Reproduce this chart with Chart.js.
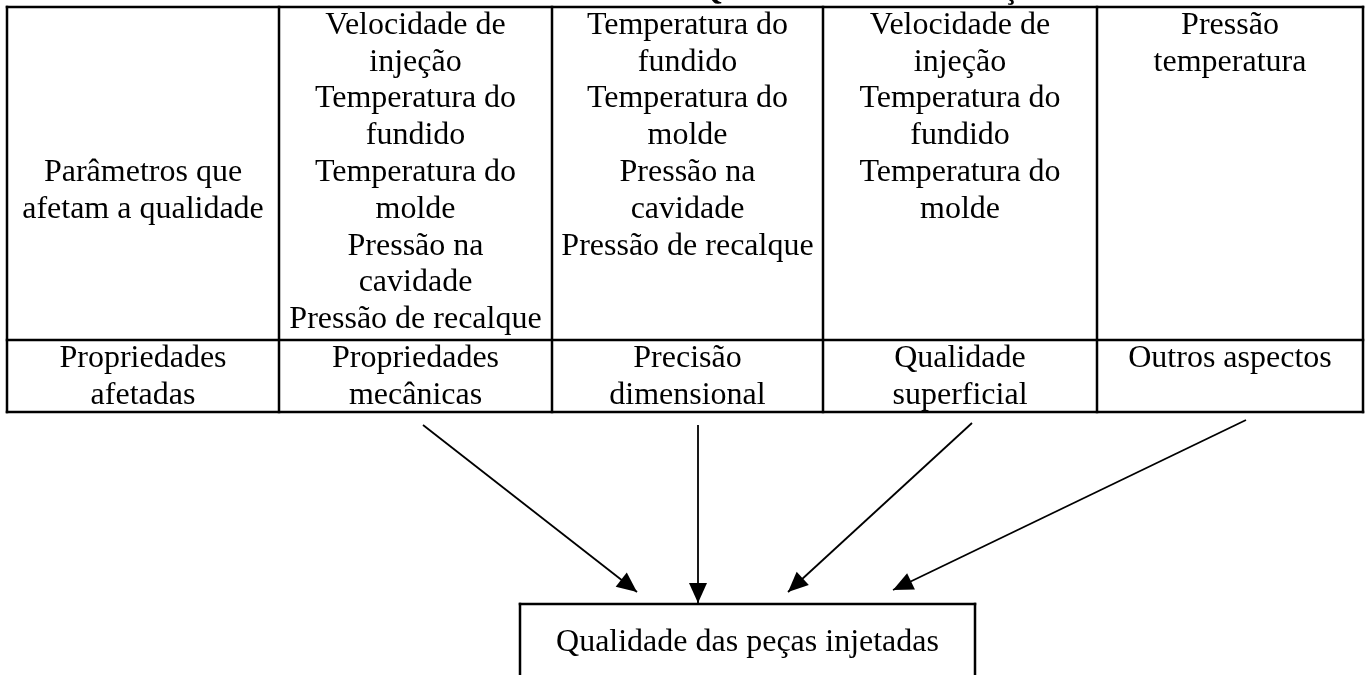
<!DOCTYPE html>
<html>
<head>
<meta charset="utf-8">
<script src="https://cdn.jsdelivr.net/npm/chart.js@4.4.1/dist/chart.umd.min.js"></script>
<style>
  html, body { margin: 0; padding: 0; background: #fff; }
  #diagram { display: block; background: #fff; }
</style>
</head>
<body>
<canvas id="diagram" width="1372" height="675"></canvas>
<script>
// table grid, in axis units
const colEdges = [7, 279, 552, 823, 1097, 1363];
const rowEdges = [7, 340, 412];
const lineStep = 36.8;

// cut-off heading above the table
const headingText = 'QUALIDADE NA INJEÇÃO';

// first row: parameters that affect quality
const paramHeader = ['Parâmetros que', 'afetam a qualidade'];
const paramHeaderStart = 4;
const paramsMechanical = ['Velocidade de', 'injeção', 'Temperatura do', 'fundido', 'Temperatura do', 'molde', 'Pressão na', 'cavidade', 'Pressão de recalque'];
const paramsDimensional = ['Temperatura do', 'fundido', 'Temperatura do', 'molde', 'Pressão na', 'cavidade', 'Pressão de recalque'];
const paramsSurface = ['Velocidade de', 'injeção', 'Temperatura do', 'fundido', 'Temperatura do', 'molde'];
const paramsOther = ['Pressão', 'temperatura'];

// second row: affected properties
const propertyHeader = ['Propriedades', 'afetadas'];
const propertyLabels = [
  ['Propriedades', 'mecânicas'],
  ['Precisão', 'dimensional'],
  ['Qualidade', 'superficial'],
  ['Outros aspectos']
];

// result box and arrows pointing to it
const resultLabel = 'Qualidade das peças injetadas';
const boxLeft = 520, boxRight = 975, boxTop = 604, boxBottom = 690;
const arrowStartX = [423, 698, 972, 1246];
const arrowStartY = [425, 425, 423, 420];
const arrowEndX = [637, 698, 788, 893];
const arrowEndY = [592, 603, 592, 590];

function segment(x1, y1, x2, y2, width) {
  return {
    data: [{x: x1, y: y1}, {x: x2, y: y2}],
    showLine: true,
    borderColor: '#000',
    borderWidth: width,
    pointRadius: 0,
    pointHoverRadius: 0,
    borderCapStyle: 'square'
  };
}

const datasets = [];
// horizontal table lines
rowEdges.forEach(function (ry) {
  datasets.push(segment(colEdges[0], ry, colEdges[colEdges.length - 1], ry, 2.5));
});
// vertical table lines
colEdges.forEach(function (cx) {
  datasets.push(segment(cx, rowEdges[0], cx, rowEdges[rowEdges.length - 1], 2.5));
});
// result box (open at the bottom)
datasets.push(segment(boxLeft, boxTop, boxRight, boxTop, 2.5));
datasets.push(segment(boxLeft, boxTop, boxLeft, boxBottom, 2.5));
datasets.push(segment(boxRight, boxTop, boxRight, boxBottom, 2.5));
// arrow shafts
for (let i = 0; i < arrowStartX.length; i++) {
  const s = segment(arrowStartX[i], arrowStartY[i], arrowEndX[i], arrowEndY[i], 1.8);
  s.borderCapStyle = 'butt';
  datasets.push(s);
}

const diagramText = {
  id: 'diagramText',
  afterDatasetsDraw(chart) {
    const ctx = chart.ctx;
    const x = chart.scales.x, y = chart.scales.y;
    ctx.save();
    ctx.fillStyle = '#000';

    // heading, mostly above the page edge
    ctx.font = 'bold 29px "Liberation Serif", "Times New Roman", serif';
    ctx.textAlign = 'left';
    ctx.textBaseline = 'alphabetic';
    ctx.fillText(headingText, x.getPixelForValue(700), y.getPixelForValue(-1));

    ctx.font = '32px "Liberation Serif", "Times New Roman", serif';
    ctx.textAlign = 'center';
    ctx.textBaseline = 'middle';
    const cellLines = function (col, row, start, lines) {
      const cx = x.getPixelForValue((colEdges[col] + colEdges[col + 1]) / 2);
      lines.forEach(function (txt, i) {
        const cy = y.getPixelForValue(rowEdges[row] + lineStep / 2 + (start + i) * lineStep);
        ctx.fillText(txt, cx, cy);
      });
    };
    cellLines(0, 0, paramHeaderStart, paramHeader);
    cellLines(1, 0, 0, paramsMechanical);
    cellLines(2, 0, 0, paramsDimensional);
    cellLines(3, 0, 0, paramsSurface);
    cellLines(4, 0, 0, paramsOther);
    cellLines(0, 1, 0, propertyHeader);
    propertyLabels.forEach(function (lines, i) {
      cellLines(i + 1, 1, 0, lines);
    });

    ctx.fillText(resultLabel, x.getPixelForValue((boxLeft + boxRight) / 2), y.getPixelForValue(643));

    // arrow heads
    for (let i = 0; i < arrowStartX.length; i++) {
      const x0 = x.getPixelForValue(arrowStartX[i]), y0 = y.getPixelForValue(arrowStartY[i]);
      const x1 = x.getPixelForValue(arrowEndX[i]), y1 = y.getPixelForValue(arrowEndY[i]);
      const a = Math.atan2(y1 - y0, x1 - x0);
      const len = 20, half = 9;
      ctx.beginPath();
      ctx.moveTo(x1, y1);
      ctx.lineTo(x1 - len * Math.cos(a) - half * Math.sin(a), y1 - len * Math.sin(a) + half * Math.cos(a));
      ctx.lineTo(x1 - len * Math.cos(a) + half * Math.sin(a), y1 - len * Math.sin(a) - half * Math.cos(a));
      ctx.closePath();
      ctx.fill();
    }
    ctx.restore();
  }
};

new Chart(document.getElementById('diagram'), {
  type: 'scatter',
  data: { datasets: datasets },
  options: {
    responsive: false,
    animation: false,
    events: [],
    layout: { padding: 0 },
    plugins: {
      legend: { display: false },
      tooltip: { enabled: false }
    },
    scales: {
      x: { type: 'linear', min: 0, max: 1372, display: false },
      y: { type: 'linear', min: 0, max: 675, reverse: true, display: false }
    }
  },
  plugins: [diagramText]
});
</script>
</body>
</html>
